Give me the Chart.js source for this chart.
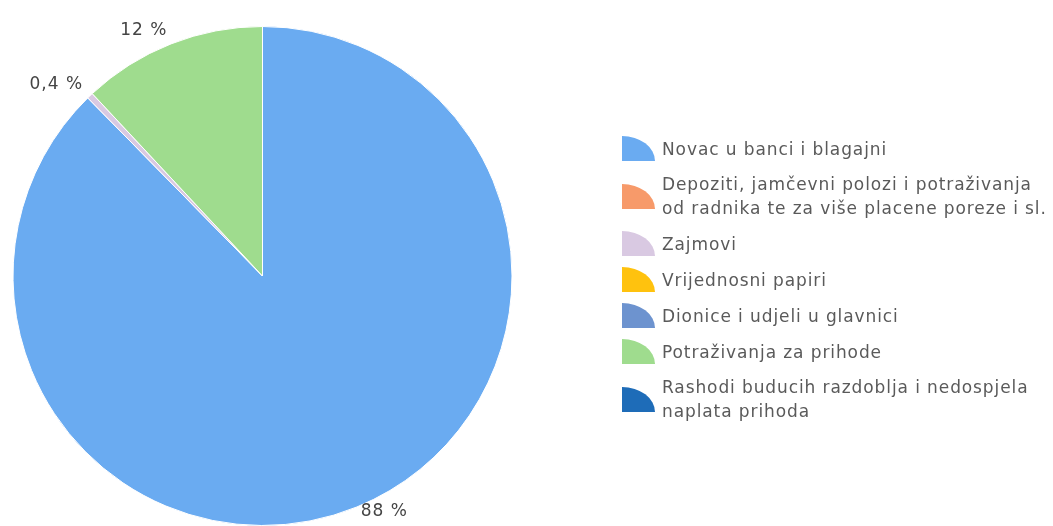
<!DOCTYPE html>
<html lang="hr">
<head>
<meta charset="utf-8">
<title>Struktura imovine</title>
<script src="https://cdn.jsdelivr.net/npm/chart.js@4/dist/chart.umd.min.js"></script>
<style>
  html, body { margin: 0; padding: 0; background: #fff; }
  #wrap { position: relative; width: 1053px; height: 526px; overflow: hidden; }
  #pie { position: absolute; left: 0; top: 0; }
  #legend {
    position: absolute; left: 622px; top: 136px;
    font-family: "DejaVu Sans", sans-serif; font-size: 17px; color: #5a5a5a;
    letter-spacing: 0.9px; line-height: 24px;
  }
  .item { display: flex; align-items: center; margin-bottom: 11px; }
  .swatch {
    width: 33px; height: 25px; flex: 0 0 33px; margin-right: 7px;
    border-top-right-radius: 100% 100%;
  }
</style>
</head>
<body>
<div id="wrap">
  <canvas id="pie" width="1053" height="526"></canvas>
  <div id="legend"></div>
</div>
<script>
const categories = [
  'Novac u banci i blagajni',
  ['Depoziti, jamčevni polozi i potraživanja', 'od radnika te za više placene poreze i sl.'],
  'Zajmovi',
  'Vrijednosni papiri',
  'Dionice i udjeli u glavnici',
  'Potraživanja za prihode',
  ['Rashodi buducih razdoblja i nedospjela', 'naplata prihoda'],
];
// shares in percent, as printed next to the slices
const shares = [88, 0, 0.4, 0, 0, 12, 0];
const colors = ['#6aabf1', '#f79a6a', '#d9c9e2', '#ffc20e', '#6d93cf', '#9fdc8e', '#1e6cb8'];

const formatShare = (v) => (v < 1 ? v.toFixed(1).replace('.', ',') : String(Math.round(v))) + ' %';

// percent labels just outside the rim, pushed away from the centre
const outsideLabels = {
  id: 'outsideLabels',
  afterDatasetsDraw(chart) {
    const { ctx } = chart;
    const meta = chart.getDatasetMeta(0);
    ctx.save();
    ctx.font = '17px "DejaVu Sans", sans-serif';
    ctx.letterSpacing = '1px';
    ctx.fillStyle = '#444';
    ctx.textBaseline = 'alphabetic';
    meta.data.forEach((arc, i) => {
      const value = shares[i];
      if (!value) return;
      const { x, y, startAngle, endAngle, outerRadius } = arc.getProps(['x', 'y', 'startAngle', 'endAngle', 'outerRadius']);
      const mid = (startAngle + endAngle) / 2;
      const r = outerRadius + 10;
      const px = x + Math.cos(mid) * r;
      const py = y + Math.sin(mid) * r;
      ctx.textAlign = Math.cos(mid) >= 0 ? 'left' : 'right';
      ctx.fillText(formatShare(value), px, py);
    });
    ctx.restore();
  },
};

new Chart(document.getElementById('pie'), {
  type: 'pie',
  data: {
    labels: categories,
    datasets: [{
      data: shares,
      backgroundColor: colors,
      borderColor: '#ffffff',
      borderWidth: 1,
      hoverOffset: 0,
    }],
  },
  options: {
    responsive: false,
    animation: false,
    layout: { padding: { left: 12, top: 26, right: 540, bottom: 0 } },
    plugins: {
      legend: { display: false },
      tooltip: { enabled: false },
    },
  },
  plugins: [outsideLabels],
});

// legend on the right, one row per category
const legend = document.getElementById('legend');
categories.forEach((label, i) => {
  const row = document.createElement('div');
  row.className = 'item';
  const swatch = document.createElement('div');
  swatch.className = 'swatch';
  swatch.style.background = colors[i];
  const text = document.createElement('div');
  (Array.isArray(label) ? label : [label]).forEach((line) => {
    const l = document.createElement('div');
    l.textContent = line;
    text.appendChild(l);
  });
  row.appendChild(swatch);
  row.appendChild(text);
  legend.appendChild(row);
});
</script>
</body>
</html>
